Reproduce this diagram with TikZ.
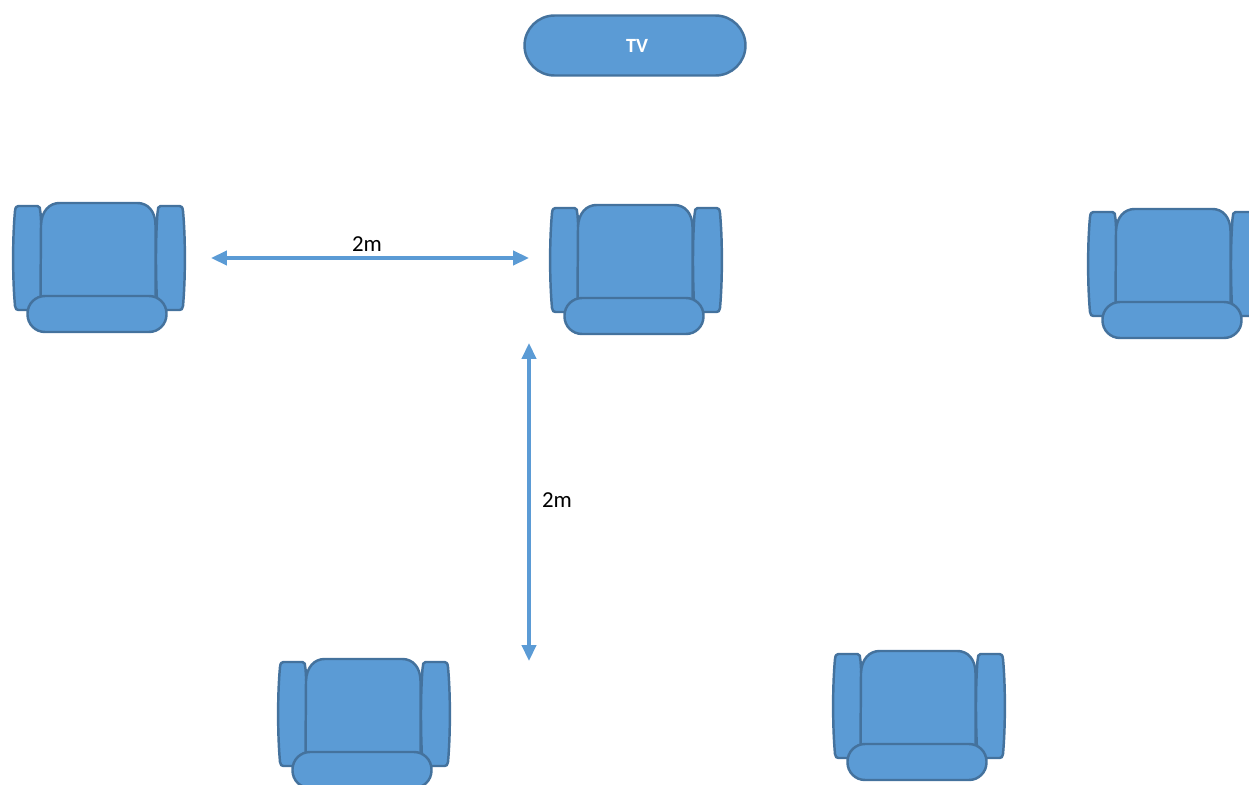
\documentclass[tikz,border=0pt]{standalone}
\usepackage{fontspec}
\setmainfont{Carlito}
\usepackage{xcolor}
\usetikzlibrary{arrows.meta,positioning,shapes.misc}
\definecolor{seatblue}{HTML}{5B9BD5}
\definecolor{seatedge}{HTML}{44729D}
\tikzset{
  part/.style={fill=seatblue, draw=seatedge, line width=1.4pt, line join=round},
  span/.style={{Triangle[length=9pt,width=8pt]}-{Triangle[length=9pt,width=8pt]}, seatblue, line width=2pt},
  dist/.style={font=\fontsize{13}{15}\selectfont, text=black, inner sep=0pt},
  chair/.pic={
    % arms first, then the back, seat on top
    \draw[part] (5,3) -- (24,3) .. controls (27,3) and (26,5) .. (27,10)
      .. controls (29,35) and (29,75) .. (27,107) -- (5,107)
      .. controls (3,107) and (2,106) .. (1.5,103)
      .. controls (-1,75) and (-1,35) .. (1.5,8) .. controls (2,4) and (3,3) .. (5,3) -- cycle;
    \draw[part] (166,3) -- (147,3) .. controls (144,3) and (145,5) .. (144,10)
      .. controls (142,35) and (142,75) .. (144,107) -- (166,107)
      .. controls (168,107) and (169,106) .. (169.5,103)
      .. controls (172,75) and (172,35) .. (169.5,8) .. controls (169,4) and (168,3) .. (166,3) -- cycle;
    \draw[part] (27,95) -- (27.5,22) .. controls (28,8) and (36,0) .. (46,0) -- (124,0)
      .. controls (134,0) and (142,8) .. (142,22) -- (142,95) -- cycle;
    \draw[part, rounded corners=0.35cm] (14,93) rectangle (153,129);
  }
}
\begin{document}
\begin{tikzpicture}[x=0.02cm, y=-0.02cm]
  \clip (0,0) rectangle (1249,785);
  \node[part, shape=rounded rectangle, minimum width=4.42cm, minimum height=1.2cm,
    inner sep=0pt, text=white, font=\fontsize{11.5}{13}\selectfont\bfseries] (tv) at (635,45.5) {\raisebox{-0.05cm}{\kern 0.08cm\relax TV}};
  \pic (chairA) at (13.5,203) {chair};
  \pic (chairB) at (550.5,205) {chair};
  \pic (chairC) at (1088.5,209) {chair};
  \pic (chairD) at (278.5,659) {chair};
  \pic (chairE) at (833.5,651) {chair};
  \coordinate (rowL) at (211,258);
  \coordinate (rowR) at (529,258);
  \coordinate (colT) at (529,343);
  \coordinate (colB) at (529,661);
  \draw[span] (rowL) -- (rowR);
  \draw[span] (colT) -- (colB);
  \node[dist] (rowlabel) at (367,244) {2m};
  \node[dist] (collabel) at (557,500) {2m};
\end{tikzpicture}
\end{document}
